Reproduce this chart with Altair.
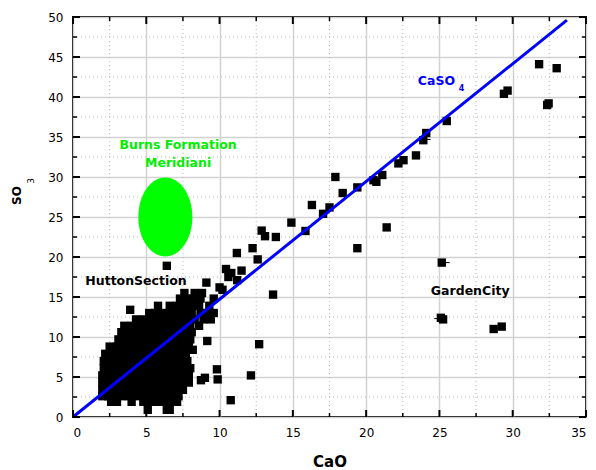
import altair as alt
import pandas as pd

# ---------------- data ----------------
# dense Hutton Section cluster: SO3 level -> CaO values of the squares in that row
cluster_so3_levels = [0.9, 1.9, 2.6, 3.4, 4.3, 5.2, 6.1, 7.0, 7.9, 8.8, 9.7, 10.6, 11.4, 12.2, 13.0, 13.9, 14.8, 15.5]
cluster_cao_rows = [
    [5.1, 6.4, 6.6],
    [2.6, 3.0, 4.0, 4.8, 5.3, 5.8, 6.3, 6.8, 7.1],
    [2.0, 2.4, 2.9, 3.3, 3.8, 4.3, 4.8, 5.3, 5.8, 6.3, 6.8, 7.2],
    [2.0, 2.5, 3.0, 3.5, 4.0, 4.5, 5.0, 5.5, 6.0, 6.5, 7.0, 7.5],
    [2.0, 2.5, 3.0, 3.5, 4.0, 4.5, 5.0, 5.5, 6.0, 6.5, 7.0, 7.5, 7.9],
    [2.0, 2.4, 2.9, 3.4, 3.9, 4.4, 4.9, 5.4, 5.9, 6.4, 6.9, 7.4, 7.9],
    [2.1, 2.6, 3.1, 3.6, 4.1, 4.6, 5.1, 5.6, 6.1, 6.6, 7.1, 7.6, 8.0],
    [2.1, 2.5, 3.0, 3.5, 4.0, 4.5, 5.0, 5.5, 6.0, 6.5, 7.0, 7.5, 7.8],
    [2.2, 2.7, 3.2, 3.7, 4.2, 4.7, 5.2, 5.7, 6.2, 6.7, 7.2, 7.7],
    [2.5, 3.0, 3.4, 3.9, 4.4, 4.9, 5.4, 5.9, 6.4, 6.9, 7.4, 7.9],
    [3.1, 3.5, 4.0, 4.5, 5.0, 5.5, 6.0, 6.5, 7.0, 7.5, 8.0],
    [3.3, 3.7, 4.2, 4.7, 5.2, 5.7, 6.2, 6.7, 7.2, 7.7, 8.1],
    [3.5, 4.0, 4.5, 5.0, 5.5, 6.0, 6.5, 7.0, 7.5, 8.0, 8.6],
    [4.3, 4.8, 5.3, 5.8, 6.3, 6.8, 7.3, 7.8, 8.3, 8.9, 9.4],
    [5.2, 5.6, 6.1, 6.6, 7.1, 7.6, 8.1, 8.7, 9.2, 9.6],
    [5.8, 6.6, 7.1, 7.6, 8.1, 8.6, 9.3],
    [7.3, 7.7, 8.2, 8.7, 9.6],
    [7.6, 8.3, 8.8],
]

# scattered samples
outlier_cao = [6.4, 3.9, 9.1, 10.0, 10.2, 10.44, 10.8, 11.5, 10.6, 11.2, 11.18, 12.25, 12.6,
               12.87, 13.1, 13.84, 13.65, 14.9, 15.86, 16.3, 17.06, 17.5, 17.9, 18.4, 19.4,
               20.5, 20.7, 21.1, 22.2, 22.55, 23.4, 23.9, 24.1, 25.5, 29.4, 29.65, 31.8,
               33.0, 32.35, 32.45, 19.4, 21.4, 25.16, 25.1, 25.25, 28.7, 29.25,
               9.16, 8.17, 12.7, 9.82, 9.87, 8.73, 9.0, 12.14, 10.76]
outlier_so3 = [18.9, 13.4, 16.8, 16.2, 15.9, 18.5, 18.0, 18.3, 17.5, 17.1, 20.5, 21.1, 19.7,
               23.3, 22.6, 22.5, 15.3, 24.3, 23.25, 26.5, 25.4, 26.2, 30.0, 28.0, 28.7,
               29.6, 29.4, 30.25, 31.7, 32.1, 32.7, 34.6, 35.5, 37.0, 40.4, 40.8, 44.1,
               43.6, 39.0, 39.2, 21.1, 23.7, 19.3, 12.4, 12.2, 11.0, 11.3,
               9.5, 8.4, 9.1, 5.96, 4.7, 4.6, 4.9, 5.2, 2.1]

# small horizontal error bars
err_cao_lo = [25.16, 24.65, 23.8]
err_cao_hi = [25.7, 25.16, 24.4]
err_so3 = [19.3, 12.3, 34.7]

# CaSO4 stoichiometric line
line_cao = [0.0, 33.7]
line_so3 = [0.0, 49.6]

# Burns Formation field (ellipse centre)
burns_cao = [6.3]
burns_so3 = [25.0]

# annotations
label_text = ["Burns Formation", "Meridiani", "HuttonSection", "GardenCity", "CaSO"]
label_cao = [7.17, 7.17, 4.3, 27.1, 24.8]
label_so3 = [34.0, 31.7, 17.0, 15.75, 42.0]
label_color = ["#00ee00", "#00ee00", "black", "black", "#0000ff"]

# axis ticks
major_x = [0, 5, 10, 15, 20, 25, 30, 35]
minor_x = [2.5, 7.5, 12.5, 17.5, 22.5, 27.5, 32.5]
major_y = [0, 5, 10, 15, 20, 25, 30, 35, 40, 45, 50]
minor_y = [2.5, 7.5, 12.5, 17.5, 22.5, 27.5, 32.5, 37.5, 42.5, 47.5]

# ---------------- tables ----------------
pts_x, pts_y = [], []
for lvl, row in zip(cluster_so3_levels, cluster_cao_rows):
    for c in row:
        pts_x.append(c)
        pts_y.append(lvl)
pts_x += outlier_cao
pts_y += outlier_so3
pts = pd.DataFrame({"x": pts_x, "y": pts_y})
errs = pd.DataFrame({"x": err_cao_lo, "x2": err_cao_hi, "y": err_so3})
line_df = pd.DataFrame({"x": line_cao, "y": line_so3})
burns = pd.DataFrame({"x": burns_cao, "y": burns_so3})
labels = pd.DataFrame({"x": label_cao, "y": label_so3, "t": label_text, "c": label_color})
mx = pd.DataFrame({"x": major_x})
nx = pd.DataFrame({"x": minor_x})
my = pd.DataFrame({"y": major_y})
ny = pd.DataFrame({"y": minor_y})

W, H = 513, 400
FONT = "DejaVu Sans"
xs = alt.Scale(domain=[0, 35], nice=False)
ys = alt.Scale(domain=[0, 50], nice=False)

AX = alt.Axis(
    values=major_x, grid=True, gridColor="#d2d2d2", gridWidth=1.5, ticks=False, domain=False,
    labelFont=FONT, labelFontSize=12, labelColor="black", labelPadding=10,
    title="CaO", titleFont=FONT, titleFontSize=15, titleFontWeight="bold", titleColor="black",
    titleY=44, titleBaseline="middle")
AY = alt.Axis(
    values=major_y, grid=True, gridColor="#d2d2d2", gridWidth=1.5, ticks=False, domain=False,
    labelFont=FONT, labelFontSize=12, labelColor="black", labelPadding=10,
    title="SO", titleFont=FONT, titleFontSize=12, titleFontWeight="bold", titleColor="black",
    titleX=-57, titleY=178, titleBaseline="middle")


def X():
    return alt.X("x:Q", scale=xs, axis=AX)


def Y():
    return alt.Y("y:Q", scale=ys, axis=AY)


minor_gx = alt.Chart(nx).mark_rule(color="#b8b8b8", strokeDash=[1, 3], strokeWidth=1).encode(x=X())
minor_gy = alt.Chart(ny).mark_rule(color="#b8b8b8", strokeDash=[1, 3], strokeWidth=1).encode(y=Y())

ellipse = alt.Chart(burns).mark_point(
    shape="M -0.684 0 A 0.684 1 0 1 0 0.684 0 A 0.684 1 0 1 0 -0.684 0 Z",
    size=6241, filled=True, color="#00ff00", opacity=1, strokeWidth=0,
).encode(x=X(), y=Y())

squares = alt.Chart(pts).mark_square(size=70, color="black", opacity=1).encode(x=X(), y=Y())

errbars = alt.Chart(errs).mark_rule(color="black", strokeWidth=1).encode(
    x=X(), x2="x2:Q", y=Y())

caso4 = alt.Chart(line_df).mark_line(color="#0000ff", strokeWidth=3).encode(x=X(), y=Y())

texts = alt.Chart(labels).mark_text(font=FONT, fontSize=12.5, fontWeight="bold").encode(
    x=X(), y=Y(), text="t:N", color=alt.Color("c:N", scale=None))

sub4 = alt.Chart(pd.DataFrame({"x": [26.5], "y": [41.0], "t": ["4"]})).mark_text(
    font=FONT, fontSize=8, fontWeight="bold", color="#0000ff").encode(x=X(), y=Y(), text="t:N")

sub3 = alt.Chart(pd.DataFrame({"t": ["3"]})).mark_text(
    font=FONT, fontSize=9, color="black", angle=270).encode(
    x=alt.value(-42), y=alt.value(164), text="t:N")


def xticks(df, y0, y1, w):
    return alt.Chart(df).mark_rule(color="black", strokeWidth=w).encode(
        x=X(), y=alt.value(y0), y2=alt.value(y1))


def yticks(df, x0, x1, w):
    return alt.Chart(df).mark_rule(color="black", strokeWidth=w).encode(
        y=Y(), x=alt.value(x0), x2=alt.value(x1))


ticks = [
    xticks(mx, H, H - 7, 2), xticks(nx, H, H - 4, 1.5),
    xticks(mx, 0, 7, 2), xticks(nx, 0, 4, 1.5),
    yticks(my, 0, 7, 2), yticks(ny, 0, 4, 1.5),
    yticks(my, W, W - 7, 2), yticks(ny, W, W - 4, 1.5),
]

chart = alt.layer(
    minor_gx, minor_gy, ellipse, squares, errbars, caso4, texts, sub4, sub3, *ticks
).properties(
    width=W, height=H,
    autosize=alt.AutoSizeParams(type="none"),
    padding={"left": 73, "top": 17, "right": 10, "bottom": 53},
).configure_view(stroke="black", strokeWidth=2)

chart.save("out.html", embed_options={"renderer": "svg", "actions": False})
